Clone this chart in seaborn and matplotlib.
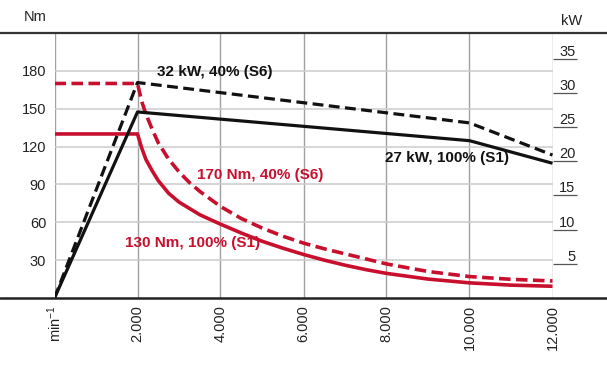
import matplotlib
matplotlib.use("Agg")
import matplotlib.pyplot as plt
from matplotlib.lines import Line2D
import seaborn as sns

sns.set_style("white")
plt.rcParams['font.family'] = ['Liberation Sans', 'DejaVu Sans']
plt.rcParams['mathtext.fontset'] = 'custom'
plt.rcParams['mathtext.rm'] = 'Liberation Sans'
plt.rcParams['mathtext.it'] = 'Liberation Sans:italic'

# --- data ---
rpm_s1_torque = [0, 2000, 2100, 2200, 2350, 2500, 2750, 3000, 3500, 4000, 4500, 5000, 5500,
                 6000, 6500, 7000, 7500, 8000, 9000, 10000, 11000, 12000]
torque_s1 = [130, 130, 119, 110, 101, 93, 83, 76, 66, 58.5, 51.5, 45, 39.5,
             34.5, 30, 26, 22.5, 19.5, 15, 12, 10.2, 9.3]

rpm_s6_torque = [0, 2000, 2100, 2200, 2350, 2500, 2750, 3000, 3250, 3500, 4000, 4500, 5000, 5500,
                 6000, 6500, 7000, 7500, 8000, 9000, 10000, 11000, 12000]
torque_s6 = [170, 170, 156, 146, 134, 123, 110, 100, 91.5, 84.5, 72.5, 63, 55.5, 49,
             43.5, 39, 35, 31, 27, 21, 17, 14.8, 13.5]

rpm_power = [0, 2000, 10000, 12000]
power_s1 = [0, 27.2, 23.0, 19.7]
power_s6 = [0, 31.5, 25.6, 20.9]

x_ticks = [0, 2000, 4000, 6000, 8000, 10000, 12000]
x_labels = ["min$^{-1}$", "2.000", "4.000", "6.000", "8.000", "10.000", "12.000"]
nm_ticks = [30, 60, 90, 120, 150, 180]
kw_ticks = [5, 10, 15, 20, 25, 30, 35]

RED = "#C8102E"
BLACK = "#111111"

fig = plt.figure(figsize=(6.07, 3.70), dpi=100)
ax = fig.add_axes([54.5 / 607, 1 - 298 / 370, 498 / 607, 265 / 370])
ax2 = ax.twinx()

# torque curves (left axis)
sns.lineplot(x=rpm_s1_torque, y=torque_s1, ax=ax, color=RED, linewidth=2.6, sort=False,
             solid_capstyle="butt")
sns.lineplot(x=rpm_s6_torque, y=torque_s6, ax=ax, color=RED, linewidth=2.6, sort=False)
ax.lines[-1].set_dashes((3.2, 1.5))

# power curves (right axis)
sns.lineplot(x=rpm_power, y=power_s1, ax=ax2, color=BLACK, linewidth=2.3, sort=False,
             solid_capstyle="butt")
sns.lineplot(x=rpm_power, y=power_s6, ax=ax2, color=BLACK, linewidth=2.3, sort=False)
ax2.lines[-1].set_dashes((3.4, 1.7))

ax.set_xlim(0, 12000)
ax.set_ylim(0, 210)
ax2.set_ylim(0, 265 / 6.84)

for a in (ax, ax2):
    for s in a.spines.values():
        s.set_visible(False)

# grid
ax.set_xticks(x_ticks)
ax.set_xticklabels(x_labels, rotation=90, va="top", ha="center", fontsize=10.5)
ax.set_yticks(nm_ticks)
ax.set_yticklabels([str(v) for v in nm_ticks], fontsize=10.5)
ax.tick_params(axis="both", length=0, colors="#222222")
ax.tick_params(axis="x", pad=5)
ax.tick_params(axis="y", pad=6)
ax.xaxis.grid(True, color="#a0a0a0", linewidth=1.0)
ax.yaxis.grid(True, color="#cccccc", linewidth=1.1)
ax.set_xlabel("")
ax.set_ylabel("")

# kW ticks: short lines with the value sitting on top
ax2.set_yticks(kw_ticks)
ax2.set_yticklabels([])
ax2.tick_params(axis="y", direction="out", length=17, width=0.9, color="#555555")
ax2.set_ylabel("")
for v in kw_ticks:
    ax2.text(1.046, v, str(v), transform=ax2.get_yaxis_transform(),
             ha="right", va="bottom", fontsize=10.5, color="#222222")

# curve labels
ax.text(2467, 179, "32 kW, 40% (S6)", fontsize=11, fontweight="bold", color=BLACK, va="center")
ax.text(7954, 111, "27 kW, 100% (S1)", fontsize=11, fontweight="bold", color=BLACK, va="center")
ax.text(3430, 97.5, "170 Nm, 40% (S6)", fontsize=11, fontweight="bold", color=RED, va="center")
ax.text(1697, 43.6, "130 Nm, 100% (S1)", fontsize=11, fontweight="bold", color=RED, va="center")

# axis titles
fig.text(47 / 607, 1 - 17 / 370, "Nm", ha="right", va="center", fontsize=10.5, color="#222222")
fig.text(571.5 / 607, 1 - 21 / 370, "kW", ha="center", va="center", fontsize=10.5, color="#222222")

# full-width frame lines
fig.add_artist(Line2D([0, 1], [1 - 33 / 370] * 2, transform=fig.transFigure, color="#333333", linewidth=1.6))
fig.add_artist(Line2D([0, 1], [1 - 298 / 370] * 2, transform=fig.transFigure, color="#222222", linewidth=1.8))

fig.savefig("out.png", dpi=100)
